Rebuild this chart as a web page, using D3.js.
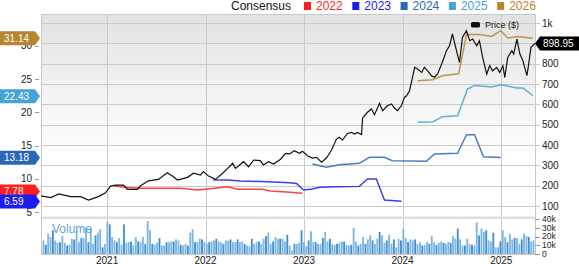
<!DOCTYPE html>
<html>
<head>
<meta charset="utf-8">
<script src="https://cdn.jsdelivr.net/npm/d3@7"></script>
<style>
  body { margin: 0; background: #fff; }
  svg { display: block; font-family: "Liberation Sans", Arial, sans-serif; }
</style>
</head>
<body>
<div class="chart"></div>
<script>
const w = 579;
const h = 264;

// price ($), right axis
const priceDates = ["2020-05-01","2020-06-07","2020-07-06","2020-08-19","2020-09-25","2020-10-24","2020-11-30","2020-12-26",
  "2021-01-14","2021-02-02","2021-03-03","2021-03-17","2021-04-23","2021-05-04","2021-06-03","2021-07-10","2021-08-12",
  "2021-08-31","2021-09-19","2021-10-26","2021-11-17","2021-12-13","2021-12-24","2022-01-12","2022-02-07","2022-03-05",
  "2022-03-24","2022-04-11","2022-04-22","2022-05-22","2022-06-09","2022-06-28","2022-07-23","2022-08-03","2022-08-22",
  "2022-09-10","2022-10-06","2022-10-24","2022-11-08","2022-11-26","2022-12-15","2022-12-26","2023-01-14","2023-02-01",
  "2023-02-16","2023-03-07","2023-03-25","2023-04-13","2023-05-01","2023-05-12","2023-05-23","2023-06-11","2023-06-26",
  "2023-07-07","2023-07-18","2023-08-02","2023-08-06","2023-08-24","2023-09-08","2023-09-19","2023-10-08","2023-10-19",
  "2023-11-06","2023-11-21","2023-12-02","2023-12-13","2023-12-28","2024-01-08","2024-01-16","2024-01-27","2024-02-07",
  "2024-02-15","2024-02-26","2024-03-12","2024-03-22","2024-04-03","2024-04-17","2024-04-28","2024-05-10","2024-05-25",
  "2024-06-12","2024-06-23","2024-07-04","2024-07-19","2024-07-30","2024-08-10","2024-08-25","2024-09-06","2024-09-17",
  "2024-10-02","2024-10-12","2024-10-24","2024-11-08","2024-11-19","2024-11-30","2024-12-15","2024-12-26","2025-01-07",
  "2025-01-14","2025-01-25","2025-02-09","2025-02-16","2025-02-28","2025-03-11","2025-03-22","2025-04-06","2025-04-10",
  "2025-04-21","2025-05-06"];
const priceValues = [150,141,159,146,146,129,146,165,
  198,203,203,182,182,198,224,231,264,
  247,228,241,261,252,269,247,231,261,
  285,310,285,318,293,326,323,302,318,
  306,330,359,356,372,359,369,347,336,
  339,315,336,375,429,438,424,457,462,
  454,462,451,533,561,577,549,605,569,
  593,602,582,569,593,634,642,667,733,
  782,774,757,782,765,741,733,749,798,
  864,888,946,864,806,929,962,913,921,
  888,913,831,749,790,765,782,757,790,
  733,831,864,847,921,847,815,741,774,
  880,899];
const lastPrice = "898.95";

// consensus EPS estimates, left axis
const fy2022Dates = ["2021-01-29","2021-03-17","2021-05-04","2021-09-30","2021-12-02","2022-01-08","2022-03-24","2022-04-30","2022-07-31","2022-08-29","2022-11-11","2022-12-26"];
const fy2022Values = [8.94,8.7,8.59,8.59,8.34,8.5,8.83,8.44,8.44,8.19,7.99,7.85];
const fy2023Dates = ["2022-01-29","2022-03-24","2022-05-11","2022-08-18","2022-11-08","2022-12-04","2022-12-30","2023-02-01","2023-02-27","2023-05-01","2023-07-25","2023-08-24","2023-09-26","2023-10-26","2023-12-28"];
const fy2023Values = [9.84,9.84,9.69,9.58,9.43,9.33,8.34,8.49,8.74,8.83,8.88,9.99,9.99,6.83,6.65];
const fy2024Dates = ["2023-02-01","2023-03-25","2023-05-12","2023-07-25","2023-08-31","2023-10-26","2023-11-24","2024-03-30","2024-04-28","2024-07-23","2024-08-25","2024-09-24","2024-10-27","2024-12-30"];
const fy2024Values = [12.24,11.74,12.14,12.34,13.25,13.25,12.74,12.65,13.74,13.85,16.65,16.65,13.34,13.2];
const fy2025Dates = ["2024-02-26","2024-04-24","2024-05-28","2024-07-23","2024-08-29","2024-09-24","2024-11-26","2024-12-30","2025-02-28","2025-03-22","2025-04-28"];
const fy2025Values = [18.5,18.6,19.35,19.5,23.5,24.05,23.8,24.16,23.66,23.66,22.5];
const fy2026Dates = ["2024-02-26","2024-04-21","2024-05-28","2024-07-27","2024-08-25","2024-10-12","2024-11-26","2024-12-30","2025-01-25","2025-02-28","2025-04-28"];
const fy2026Values = [24.76,24.9,25.5,25.8,31.7,31.7,31.4,32.27,31.17,31.4,31.14];

const years = ["2022","2023","2024","2025","2026"];
const yearColors = ["#ff1f1f","#1c1cf0","#2a68b4","#45a3d6","#b5852f"];
const badgeValues = ["7.78","6.59","13.18","22.43","31.14"];

// volume (thousands)
const volume = [15.5,10.5,23.3,19.4,27.2,15.5,12.8,13.6,20.5,12.8,9.7,10.5,17.4,16.7,26,13.6,18.2,18.2,29.9,13.6,
  29.1,11.6,21.3,24.4,28.3,7.7,11.6,36.9,33.8,19.4,15.5,13.6,18.2,10.5,33.8,12.8,13.6,14.3,9.7,19.4,
  14.3,13.6,19.4,11.6,37.6,27.2,11.6,10.5,12.8,18.2,9.7,9.7,13.6,13.6,14.3,14.3,16.7,15.5,10.5,9.7,
  11.6,9.7,24.4,28.3,13.6,13.6,17.4,16.7,13.6,11.6,13.6,14.3,15.5,17.4,14.3,13.6,11.6,15.5,15.5,16.7,
  13.6,13.6,16.7,13.6,14.3,11.6,9.7,8.9,17.4,11.6,13.6,14.3,11.6,17.4,20.5,24.4,11.6,14.3,19.4,17.4,
  17.4,17.4,14.3,22,9.7,3.9,11.6,11.6,12.8,27.2,13.6,8.9,15.5,26,13.6,13.6,11.6,11.6,18.2,25.2,
  14.3,17.4,11.6,10.5,11.6,12.8,14.3,14.3,10.5,9.7,10.5,29.9,14.3,9.7,11.6,19.4,11.6,16.7,21.3,15.5,
  11.6,17.4,25.2,21.3,12.8,15.5,22,11.6,16.7,7.7,17.4,15.5,29.1,18.2,13.6,16.7,15.5,16.7,11.6,13.6,
  9.7,10.5,13.6,11.6,20.5,13.6,10.5,12.8,14.3,12.8,11.6,13.6,12.8,20.5,17.4,29.1,16.7,9.7,9.7,17.4,
  11.6,10.5,9.7,36.1,21.3,29.1,25.2,27.2,15.5,14.3,24.4,7.7,7.7,14.3,27.2,19.4,13.6,23.3,16.7,18.2,
  18.2,11.6,16.7,23.3,20.5,19.4,14.3,15.5];

const priceTicks = [100,200,300,400,500,600,700,800,900,1000];
const epsTicks = [5,10,15,20,25,30];
const volTicks = [0,10,20,30,40];
const yearTicks = ["2021","2022","2023","2024","2025"];

const parse = d3.timeParse("%Y-%m-%d");
const pLeft = 41, pRight = 535, pTop = 14, pSplit = 217, pBottom = 254;

const x = d3.scaleTime()
    .domain([parse("2020-05-01"), parse("2025-05-06")])
    .range([pLeft, pRight]);
const yPrice = d3.scaleLinear().domain([100, 1000]).range([206, 23]);
const yEps = d3.scaleLinear().domain([5, 30]).range([212.2, 45.8]);
const yVol = d3.scaleLinear().domain([0, 40]).range([pBottom, 219]);

const svg = d3.select(".chart")
    .append("svg")
    .attr("width", w)
    .attr("height", h);

const defs = svg.append("defs");
const grad = defs.append("linearGradient")
    .attr("id", "bg").attr("x1", 0).attr("y1", 0).attr("x2", 0).attr("y2", 1);
grad.append("stop").attr("offset", "0%").attr("stop-color", "#e2e2e2");
grad.append("stop").attr("offset", "70%").attr("stop-color", "#ffffff");
defs.append("clipPath").attr("id", "clip")
    .append("rect").attr("x", pLeft).attr("y", pTop).attr("width", pRight - pLeft).attr("height", pSplit - pTop);

svg.append("rect")
    .attr("x", pLeft).attr("y", pTop)
    .attr("width", pRight - pLeft).attr("height", pSplit - pTop)
    .attr("fill", "url(#bg)");

// grid
svg.append("g").selectAll("line")
    .data(priceTicks).enter().append("line")
    .attr("x1", pLeft).attr("x2", pRight + 5)
    .attr("y1", d => Math.round(yPrice(d)) + 0.5).attr("y2", d => Math.round(yPrice(d)) + 0.5)
    .attr("stroke", "#c9c9c9");
svg.append("g").selectAll("line")
    .data(yearTicks).enter().append("line")
    .attr("x1", d => Math.round(x(parse(d + "-01-01"))) + 0.5)
    .attr("x2", d => Math.round(x(parse(d + "-01-01"))) + 0.5)
    .attr("y1", pTop).attr("y2", pBottom + 4)
    .attr("stroke", "#c9c9c9");

// separator between price and volume panels
svg.append("rect")
    .attr("x", pLeft).attr("y", pSplit - 0.5).attr("width", pRight - pLeft).attr("height", 2.5)
    .attr("fill", "#dedede");

// frame
svg.append("path")
    .attr("d", `M${pLeft + 0.5},${pBottom}V${pTop + 0.5}H${pRight + 0.5}V${pBottom + 0.5}H${pLeft}`)
    .attr("fill", "none").attr("stroke", "#c9c9c9");

// volume bars
const xv = d3.scaleBand().domain(d3.range(volume.length)).range([pLeft + 1, pRight]).padding(0.22);
svg.append("g").selectAll("rect")
    .data(volume).enter().append("rect")
    .attr("x", (d, i) => xv(i))
    .attr("width", xv.bandwidth())
    .attr("y", d => yVol(d))
    .attr("height", d => pBottom - yVol(d))
    .attr("fill", (d, i) => i % 3 === 1 ? "#3f8fd3" : "#7db5e3");

svg.append("text")
    .attr("x", 52).attr("y", 233)
    .attr("font-size", 12).attr("fill", "#3d8fd1").attr("fill-opacity", 0.85)
    .text("Volume");

// axes labels
const ax = svg.append("g").attr("font-size", 10).attr("fill", "#222");
ax.selectAll(".pt").data(priceTicks).enter().append("text")
    .attr("x", 542).attr("y", d => yPrice(d)).attr("dy", "0.35em")
    .text(d => d === 1000 ? "1k" : d);
ax.selectAll(".et").data(epsTicks).enter().append("text")
    .attr("x", 32).attr("y", d => yEps(d)).attr("dy", "0.35em")
    .attr("text-anchor", "end")
    .text(d => d);
ax.selectAll(".etl").data(epsTicks).enter().append("line")
    .attr("x1", 35).attr("x2", 39)
    .attr("y1", d => Math.round(yEps(d)) + 0.5).attr("y2", d => Math.round(yEps(d)) + 0.5)
    .attr("stroke", "#999");
ax.selectAll(".vt").data(volTicks).enter().append("text")
    .attr("x", 542).attr("y", d => yVol(d)).attr("dy", "0.35em")
    .attr("font-size", 8.5)
    .text(d => d === 0 ? "0" : d + "k");
ax.selectAll(".vtl").data(volTicks).enter().append("line")
    .attr("x1", pRight).attr("x2", pRight + 5)
    .attr("y1", d => Math.round(yVol(d)) + 0.5).attr("y2", d => Math.round(yVol(d)) + 0.5)
    .attr("stroke", "#999");
ax.selectAll(".yt").data(yearTicks).enter().append("text")
    .attr("x", d => x(parse(d + "-01-01"))).attr("y", 263.5)
    .attr("text-anchor", "middle")
    .text(d => d);

// consensus lines
const plot = svg.append("g").attr("clip-path", "url(#clip)");
const epsLine = d3.line().x(d => x(d[0])).y(d => yEps(d[1]));
const series = [
  [fy2022Dates, fy2022Values],
  [fy2023Dates, fy2023Values],
  [fy2024Dates, fy2024Values],
  [fy2025Dates, fy2025Values],
  [fy2026Dates, fy2026Values]
];
series.forEach(function (s, i) {
  plot.append("path")
      .datum(s[0].map((d, j) => [parse(d), s[1][j]]))
      .attr("d", epsLine)
      .attr("fill", "none")
      .attr("stroke", yearColors[i])
      .attr("stroke-width", 1.5)
      .attr("stroke-opacity", 0.85);
});

// price line
const priceLine = d3.line().x(d => x(d[0])).y(d => yPrice(d[1]));
plot.append("path")
    .datum(priceDates.map((d, j) => [parse(d), priceValues[j]]))
    .attr("d", priceLine)
    .attr("fill", "none")
    .attr("stroke", "#111")
    .attr("stroke-width", 1.2);

// legend
const lg = svg.append("g").attr("font-size", 12);
lg.append("text").attr("x", 231).attr("y", 10).attr("fill", "#111").text("Consensus");
years.forEach(function (yr, i) {
  const sx = 304 + i * 48.3;
  lg.append("rect").attr("x", sx).attr("y", 2).attr("width", 7).attr("height", 8).attr("fill", yearColors[i]);
  lg.append("text").attr("x", sx + 12).attr("y", 10).attr("fill", yearColors[i]).text(yr);
});
svg.append("rect").attr("x", 471).attr("y", 22).attr("width", 9).attr("height", 5.5).attr("rx", 1.5).attr("fill", "#111");
svg.append("text").attr("x", 485).attr("y", 28).attr("font-size", 9).attr("fill", "#111").text("Price ($)");

// value badges on the left
let badgeY = badgeValues.map(v => yEps(+v));
if (badgeY[1] - badgeY[0] < 10) badgeY[0] = badgeY[1] - 10;
badgeValues.forEach(function (v, i) {
  const cy = badgeY[i];
  const b = svg.append("g");
  b.append("path")
      .attr("d", `M0,${cy - 7}H35L40,${cy}L35,${cy + 7}H0Z`)
      .attr("fill", yearColors[i]);
  b.append("text")
      .attr("x", 4).attr("y", cy).attr("dy", "0.35em")
      .attr("font-size", 10).attr("fill", "#fff")
      .text(v);
});

// last price badge
const py = yPrice(+lastPrice);
svg.append("path")
    .attr("d", `M${pRight},${py}L${pRight + 5},${py - 7}H${w}V${py + 7}H${pRight + 5}Z`)
    .attr("fill", "#000");
svg.append("text")
    .attr("x", 543).attr("y", py).attr("dy", "0.35em")
    .attr("font-size", 10).attr("fill", "#fff")
    .text(lastPrice);
</script>
</body>
</html>
